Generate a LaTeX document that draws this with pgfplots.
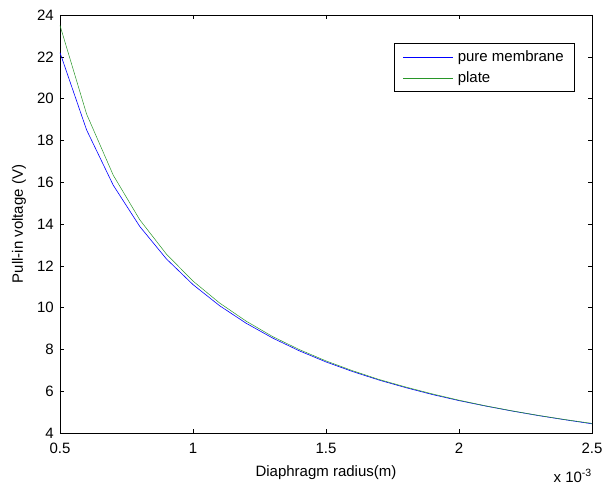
\documentclass[border=0pt]{standalone}
\usepackage{pgfplots}
\pgfplotsset{compat=1.18}
\usepackage{fontspec}
\setmainfont{Liberation Sans}
\definecolor{mblue}{RGB}{0,0,255}
\definecolor{mgreen}{RGB}{40,150,40}
\pgfplotstableread{
r V
0.5 22.20
0.6 18.50
0.7 15.86
0.8 13.88
0.9 12.33
1.0 11.10
1.1 10.09
1.2 9.25
1.3 8.54
1.4 7.93
1.5 7.40
1.6 6.94
1.7 6.53
1.8 6.17
1.9 5.84
2.0 5.55
2.1 5.29
2.2 5.05
2.3 4.83
2.4 4.63
2.5 4.44
}\membrane
\pgfplotstableread{
r V
0.5 23.50
0.6 19.26
0.7 16.34
0.8 14.20
0.9 12.56
1.0 11.27
1.1 10.22
1.2 9.35
1.3 8.61
1.4 7.99
1.5 7.45
1.6 6.98
1.7 6.56
1.8 6.20
1.9 5.87
2.0 5.57
2.1 5.30
2.2 5.06
2.3 4.84
2.4 4.64
2.5 4.46
}\plate
\begin{document}
\begin{tikzpicture}
\begin{axis}[
  scale only axis,
  width=532pt, height=418pt,
  xmin=0.5, xmax=2.5, ymin=4, ymax=24,
  xtick={0.5,1,1.5,2,2.5},
  xticklabels={0.5,1,1.5,2,2.5},
  ytick={4,6,...,24},
  tick align=inside,
  major tick length=4pt,
  axis line style={line width=0.8pt},
  tick style={black, line width=0.5pt},
  /pgf/number format/assume math mode=true,
  tick label style={font=\fontsize{15}{17}\selectfont},
  xticklabel style={anchor=base, yshift=-20pt},
  yticklabel style={anchor=east, inner sep=0pt, xshift=-6pt},
  label style={font=\fontsize{15}{17}\selectfont},
  xlabel={Diaphragm radius(m)},
  ylabel={Pull-in voltage (V)},
  xlabel style={at={(axis description cs:0.5,0)}, anchor=base, yshift=-43pt},
  ylabel style={at={(axis description cs:0,0.5)}, anchor=center, rotate=0, yshift=41pt},
  legend style={at={(0.968,0.932)}, anchor=north east, draw=black, line width=0.6pt,
    font=\fontsize{15}{17}\selectfont, cells={anchor=west}, inner xsep=9pt, inner ysep=5pt, row sep=4.5pt},
  legend image code/.code={\draw[#1] (0pt,0pt) -- (50pt,0pt);},
  clip=true,
]
\addplot[mblue, line width=0.6pt] table[x=r,y=V] {\membrane};
\addlegendentry{\hspace{2pt}pure membrane}
\addplot[mgreen, line width=0.5pt] table[x=r,y=V] {\plate};
\addlegendentry{\hspace{2pt}plate}
\end{axis}
\node[font=\fontsize{15}{17}\selectfont, anchor=base east, inner sep=0pt] at ([yshift=-49pt]current axis.south east) {x 10\textsuperscript{-3}};
\pgfresetboundingbox
\path ([xshift=-60pt,yshift=-51pt]current axis.south west) rectangle ([xshift=11pt,yshift=15pt]current axis.north east);
\end{tikzpicture}
\end{document}
